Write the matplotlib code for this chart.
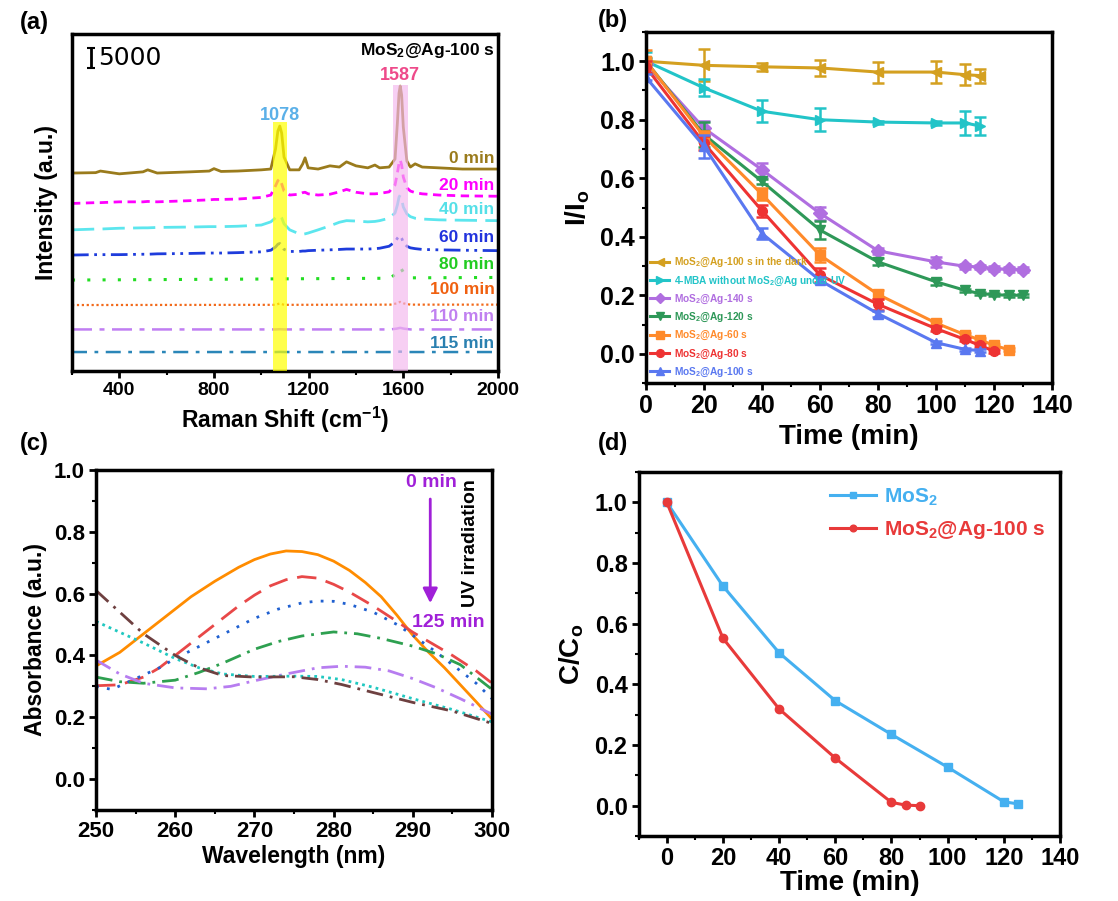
import matplotlib.pyplot as plt
from matplotlib.ticker import MultipleLocator

plt.rcParams['font.family'] = ['Liberation Sans', 'DejaVu Sans']
plt.rcParams['font.weight'] = 'bold'
plt.rcParams['axes.labelweight'] = 'bold'
plt.rcParams['mathtext.fontset'] = 'custom'
plt.rcParams['mathtext.rm'] = 'Liberation Sans:bold'
plt.rcParams['mathtext.it'] = 'Liberation Sans:bold'
plt.rcParams['mathtext.bf'] = 'Liberation Sans:bold'

# ---- (a) Raman spectra, stacked (counts) ----
shift = [200, 300, 320, 400, 500, 520, 560, 700, 780, 800, 830, 900, 1000, 1040,
         1060, 1070, 1078, 1086, 1096, 1120, 1160, 1175, 1185, 1198, 1240, 1290,
         1330, 1360, 1400, 1450, 1480, 1500, 1540, 1565, 1575, 1582, 1587, 1593,
         1600, 1615, 1630, 1650, 1680, 1750, 1850, 2000]
raman_0 = [49500, 49600, 50000, 49300, 49800, 50300, 49500, 49800, 50000, 50600,
           49900, 50000, 50300, 50500, 55500, 60000, 61250, 59500, 53500, 50300,
           50300, 51800, 53300, 50800, 50500, 51300, 51000, 52300, 51300, 50800,
           51500, 50800, 51000, 53000, 62000, 69500, 71250, 69000, 61000, 52500,
           51000, 51800, 51000, 50800, 50500, 50500]
raman_20 = [41900, 42100, 42100, 42300, 42300, 42400, 42300, 42600, 42800, 42900,
            42900, 43000, 43400, 44000, 46300, 47600, 48000, 46800, 45000, 44000,
            44200, 44600, 44700, 44300, 44000, 44200, 44800, 45400, 44700, 44300,
            44300, 44400, 44800, 46500, 49500, 52000, 52800, 51500, 48500, 45800,
            45000, 44600, 44300, 44000, 43800, 43700]
raman_40 = [35300, 35500, 35500, 35700, 35800, 35800, 35900, 36000, 36100, 36100,
            36100, 36200, 36500, 37300, 38300, 38900, 39000, 38300, 36800, 35300,
            34300, 34200, 34300, 34500, 35300, 36300, 37200, 37600, 37500, 37300,
            37400, 37600, 38200, 39500, 41500, 43500, 44000, 43000, 41000, 39300,
            38600, 38200, 38000, 37800, 37700, 37600]
raman_60 = [29000, 29100, 29100, 29100, 29200, 29200, 29300, 29400, 29500, 29500,
            29500, 29600, 29800, 30200, 31000, 31700, 31900, 31300, 30400, 29900,
            29900, 30000, 30000, 30100, 30200, 30300, 30400, 30500, 30500, 30500,
            30600, 30700, 31200, 32300, 33200, 33700, 33800, 33200, 32200, 31200,
            30800, 30600, 30400, 30300, 30200, 30100]
shift_late = [200, 1000, 1060, 1078, 1096, 1545, 1572, 1587, 1602, 1630, 2000]
raman_80 = [22750, 23000, 23050, 23300, 23050, 23200, 24500, 26000, 24500, 23300, 23400]
raman_100 = [16500, 16550, 16550, 16900, 16550, 16600, 16900, 17300, 16900, 16600, 16600]
raman_110 = [10400, 10400, 10400, 10450, 10400, 10400, 10600, 10800, 10600, 10400, 10400]
raman_115 = [4750, 4750, 4750, 4780, 4750, 4750, 4800, 4850, 4800, 4750, 4750]
raman_labels = ['0 min', '20 min', '40 min', '60 min', '80 min', '100 min', '110 min', '115 min']
raman_label_y = [53250, 46500, 40500, 33500, 26750, 20500, 13750, 7000]
scale_bar = 5000

# ---- (b) relative SERS intensity vs time ----
t_long = [0, 20, 40, 60, 80, 100, 110, 115, 120, 125, 130]
t_dark = [0, 20, 40, 60, 80, 100, 110, 115]
dark = [1.0, 0.986, 0.981, 0.977, 0.963, 0.963, 0.954, 0.951]
dark_err = [0.0, 0.055, 0.014, 0.027, 0.036, 0.037, 0.035, 0.024]
mba = [1.0, 0.909, 0.829, 0.80, 0.792, 0.789, 0.789, 0.779]
mba_err = [0.03, 0.029, 0.037, 0.04, 0.005, 0.008, 0.042, 0.031]
ag140 = [0.99, 0.771, 0.629, 0.48, 0.352, 0.314, 0.299, 0.297, 0.291, 0.289, 0.288]
ag140_err = [0.01, 0.025, 0.024, 0.023, 0.01, 0.017, 0.008, 0.008, 0.008, 0.008, 0.008]
ag120 = [1.0, 0.749, 0.589, 0.423, 0.314, 0.246, 0.217, 0.206, 0.202, 0.2, 0.2]
ag120_err = [0.01, 0.043, 0.01, 0.031, 0.012, 0.01, 0.006, 0.006, 0.006, 0.006, 0.006]
t_60 = [0, 20, 40, 60, 80, 100, 110, 115, 120, 125]
ag60 = [1.0, 0.743, 0.545, 0.337, 0.203, 0.105, 0.065, 0.048, 0.029, 0.014]
ag60_err = [0.04, 0.02, 0.02, 0.023, 0.015, 0.008, 0.006, 0.006, 0.006, 0.005]
t_80 = [0, 20, 40, 60, 80, 100, 110, 115, 120]
ag80 = [0.98, 0.72, 0.489, 0.269, 0.169, 0.086, 0.049, 0.029, 0.009]
ag80_err = [0.02, 0.025, 0.02, 0.023, 0.018, 0.008, 0.006, 0.006, 0.005]
ag100 = [0.945, 0.709, 0.411, 0.251, 0.137, 0.038, 0.015, 0.011]
ag100_err = [0.01, 0.04, 0.02, 0.01, 0.01, 0.006, 0.005, 0.005]

# ---- (c) UV-vis absorbance, 0 min -> 125 min ----
wl_0 = [250, 253, 256, 259, 262, 265, 268, 270, 272, 274, 276, 278, 280, 282,
        284, 286, 288, 290, 292, 294, 296, 298, 300]
abs_0 = [0.366, 0.41, 0.47, 0.53, 0.59, 0.64, 0.685, 0.71, 0.728, 0.738, 0.736,
         0.726, 0.705, 0.675, 0.636, 0.59, 0.53, 0.465, 0.41, 0.36, 0.305, 0.25, 0.194]
wl_1 = [250, 253, 256, 258, 260, 262, 265, 268, 270, 272, 274, 276, 278, 280,
        282, 285, 288, 290, 292, 295, 298, 300]
abs_1 = [0.302, 0.305, 0.33, 0.36, 0.40, 0.44, 0.50, 0.56, 0.595, 0.625, 0.645,
         0.655, 0.65, 0.63, 0.605, 0.56, 0.51, 0.475, 0.445, 0.40, 0.35, 0.31]
wl_2 = [250, 252, 255, 258, 260, 265, 270, 273, 276, 278, 280, 282, 285, 288,
        290, 293, 295, 298, 300]
abs_2 = [0.30, 0.29, 0.325, 0.36, 0.39, 0.455, 0.52, 0.55, 0.57, 0.576, 0.575,
         0.565, 0.54, 0.50, 0.465, 0.41, 0.37, 0.31, 0.26]
wl_3 = [250, 253, 256, 260, 263, 266, 270, 273, 276, 280, 283, 286, 290, 293, 296, 300]
abs_3 = [0.33, 0.315, 0.31, 0.32, 0.345, 0.375, 0.42, 0.445, 0.463, 0.476, 0.47,
         0.455, 0.43, 0.405, 0.37, 0.29]
wl_4 = [250, 253, 256, 260, 264, 267, 270, 274, 278, 281, 284, 287, 290, 293, 296, 300]
abs_4 = [0.385, 0.34, 0.31, 0.295, 0.292, 0.30, 0.318, 0.34, 0.36, 0.365, 0.362,
         0.35, 0.325, 0.295, 0.26, 0.21]
wl_5 = [250, 253, 256, 260, 263, 266, 270, 275, 278, 281, 285, 290, 295, 300]
abs_5 = [0.51, 0.475, 0.44, 0.39, 0.36, 0.34, 0.332, 0.333, 0.332, 0.322, 0.297,
         0.26, 0.225, 0.185]
abs_6 = [0.61, 0.54, 0.47, 0.40, 0.36, 0.335, 0.33, 0.331, 0.322, 0.306, 0.28,
         0.248, 0.22, 0.18]

# ---- (d) degradation C/C0 ----
t_mos2 = [0, 20, 40, 60, 80, 100, 120, 125]
c_mos2 = [1.0, 0.724, 0.504, 0.346, 0.235, 0.127, 0.013, 0.006]
t_ag = [0, 20, 40, 60, 80, 85, 90]
c_ag = [1.0, 0.552, 0.319, 0.157, 0.011, 0.002, 0.0]


def style(ax, size):
    for s in ax.spines.values():
        s.set_linewidth(2.5)
    ax.tick_params(which='major', direction='out', length=5, width=2,
                   labelsize=size, top=False, right=False, pad=3)
    ax.tick_params(which='minor', direction='out', length=3, width=1.5,
                   top=False, right=False)


fmt1 = plt.FuncFormatter(lambda v, p: f'{v:.1f}')

fig = plt.figure(figsize=(11.18, 9.01), dpi=100)

# (a)
ax = fig.add_axes([0.0644, 0.5882, 0.381, 0.374])
early = [(raman_0, '#9A7B1C', '-', 2.0),
         (raman_20, '#FF00FF', (0, (3, 2)), 2.0),
         (raman_40, '#5CE6EE', (0, (8, 3)), 2.0),
         (raman_60, '#1E3CDC', (0, (6, 2, 1, 2, 1, 2)), 2.0)]
late = [(raman_80, '#22DD22', (0, (1, 4)), 2.2),
        (raman_100, '#F26A1B', (0, (1, 1.2)), 1.6),
        (raman_110, '#C07EF2', (0, (8, 3, 2, 3)), 1.8),
        (raman_115, '#2A86B8', (0, (6, 3, 1.5, 3)), 1.8)]
for y, c, ls, lw in early:
    ax.plot(shift, y, color=c, ls=ls, lw=lw)
for y, c, ls, lw in late:
    ax.plot(shift_late, y, color=c, ls=ls, lw=lw)
ax.fill_between([1050, 1108], 0, 62200, color='#FFFF00', alpha=0.7, lw=0, zorder=3)
ax.fill_between([1556, 1619], 0, 71500, color='#F3B6EE', alpha=0.65, lw=0, zorder=3)
label_colors = ['#9A7B1C', '#FF00FF', '#55E0E8', '#2233DD', '#22CC22',
                '#F06010', '#C080F0', '#2A80B0']
for lab, yy, c in zip(raman_labels, raman_label_y, label_colors):
    ax.text(1985, yy, lab, color=c, fontsize=12.5, ha='right', va='center')
ax.text(1078, 64000, '1078', color='#5BB0E8', fontsize=13, ha='center', va='center')
ax.text(1587, 74000, '1587', color='#EE4A8A', fontsize=13, ha='center', va='center')
ax.text(1985, 80200, r'MoS$_2$@Ag-100 s', fontsize=12.5, ha='right', va='center')
ax.errorbar([279], [75700 + scale_bar / 2], yerr=[scale_bar / 2], color='black',
            capsize=3, elinewidth=2, capthick=1.5)
ax.text(312, 78200, '5000', fontsize=18, fontweight='normal', va='center',
        family='DejaVu Sans')
ax.set_xlim(200, 2000)
ax.set_ylim(0, 84250)
ax.set_yticks([])
ax.xaxis.set_major_locator(MultipleLocator(400))
ax.xaxis.set_minor_locator(MultipleLocator(200))
style(ax, 14)
ax.set_xlabel(r'Raman Shift (cm$^{-1}$)', fontsize=16.5, labelpad=4)
ax.set_ylabel('Intensity (a.u.)', fontsize=16.5, labelpad=10)

# (b)
ax = fig.add_axes([0.5778, 0.5749, 0.3632, 0.3896])
series_b = [
    (t_dark, dark, dark_err, '#D4A020', '<', r'MoS$_2$@Ag-100 s in the dark'),
    (t_dark, mba, mba_err, '#22C4C8', '>', r'4-MBA without MoS$_2$@Ag under UV'),
    (t_long, ag140, ag140_err, '#B06EE0', 'D', r'MoS$_2$@Ag-140 s'),
    (t_long, ag120, ag120_err, '#2E9858', 'v', r'MoS$_2$@Ag-120 s'),
    (t_60, ag60, ag60_err, '#FF8A2A', 's', r'MoS$_2$@Ag-60 s'),
    (t_80, ag80, ag80_err, '#EE3333', 'o', r'MoS$_2$@Ag-80 s'),
    (t_dark, ag100, ag100_err, '#5A78F0', '^', r'MoS$_2$@Ag-100 s'),
]
for t, y, e, c, m, lab in series_b:
    ax.errorbar(t, y, yerr=e, fmt='none', ecolor=c, elinewidth=1.8,
                capsize=4, capthick=1.8)
    ax.plot(t, y, color=c, marker=m, ms=7, lw=2.2, label=lab)
ax.legend(loc='lower left', bbox_to_anchor=(0.0, 0.0), frameon=False,
          fontsize=7.3, labelcolor='linecolor', handlelength=1.9,
          handletextpad=0.5, labelspacing=0.5, borderaxespad=0.2,
          borderpad=0.2, markerscale=0.8)
ax.set_xlim(0, 140)
ax.set_ylim(-0.1, 1.1)
ax.xaxis.set_major_locator(MultipleLocator(20))
ax.xaxis.set_minor_locator(MultipleLocator(10))
ax.set_yticks([0.0, 0.2, 0.4, 0.6, 0.8, 1.0])
ax.yaxis.set_minor_locator(MultipleLocator(0.1))
ax.yaxis.set_major_formatter(fmt1)
style(ax, 18)
ax.set_xlabel('Time (min)', fontsize=20, labelpad=4)
ax.set_ylabel(r'I/I$_\mathrm{o}$', fontsize=20, labelpad=6)

# (c)
ax = fig.add_axes([0.0859, 0.101, 0.3542, 0.3774])
curves_c = [
    (wl_0, abs_0, '#FF8C00', '-'),
    (wl_1, abs_1, '#E84848', (0, (7, 3.5))),
    (wl_2, abs_2, '#2060D0', (0, (1, 3))),
    (wl_3, abs_3, '#2EA050', (0, (6, 2.5, 1, 2.5))),
    (wl_4, abs_4, '#B77DF0', (0, (6, 2.5, 1, 2.5))),
    (wl_5, abs_5, '#20C8C0', (0, (1, 1.5))),
    (wl_5, abs_6, '#6E4040', (0, (6, 2.5, 1, 2.5))),
]
for x, y, c, ls in curves_c:
    ax.plot(x, y, color=c, ls=ls, lw=2.0)
ax.annotate('', xy=(292.2, 0.56), xytext=(292.2, 0.915),
            arrowprops=dict(arrowstyle='-|>', color='#A020D8', lw=2,
                            mutation_scale=22))
ax.text(292.4, 0.958, '0 min', color='#A020D8', fontsize=14, ha='center', va='center')
ax.text(294.5, 0.506, '125 min', color='#A020D8', fontsize=14, ha='center', va='center')
ax.text(297.3, 0.765, 'UV irradiation', fontsize=14, rotation=90,
        ha='center', va='center')
ax.set_xlim(250, 300)
ax.set_ylim(-0.1, 1.0)
ax.xaxis.set_major_locator(MultipleLocator(10))
ax.xaxis.set_minor_locator(MultipleLocator(5))
ax.set_yticks([0.0, 0.2, 0.4, 0.6, 0.8, 1.0])
ax.yaxis.set_minor_locator(MultipleLocator(0.1))
ax.yaxis.set_major_formatter(fmt1)
style(ax, 16)
ax.set_xlabel('Wavelength (nm)', fontsize=16.5, labelpad=2)
ax.set_ylabel('Absorbance (a.u.)', fontsize=16.5, labelpad=5)

# (d)
ax = fig.add_axes([0.5713, 0.0721, 0.3768, 0.404])
ax.plot(t_mos2, c_mos2, color='#45B0F0', marker='s', ms=6, lw=2.2, label=r'MoS$_2$')
ax.plot(t_ag, c_ag, color='#E83A3A', marker='o', ms=6, lw=2.2,
        label=r'MoS$_2$@Ag-100 s')
ax.legend(loc='upper right', frameon=False, fontsize=15, labelcolor='linecolor',
          handlelength=2.2, handletextpad=0.4, labelspacing=0.55,
          borderaxespad=0.3, markerscale=0.8)
ax.set_xlim(-10, 140)
ax.set_ylim(-0.1, 1.1)
ax.set_xticks([0, 20, 40, 60, 80, 100, 120, 140])
ax.xaxis.set_minor_locator(MultipleLocator(10))
ax.set_yticks([0.0, 0.2, 0.4, 0.6, 0.8, 1.0])
ax.yaxis.set_minor_locator(MultipleLocator(0.1))
ax.yaxis.set_major_formatter(fmt1)
style(ax, 17)
ax.set_xlabel('Time (min)', fontsize=20, labelpad=0)
ax.set_ylabel(r'C/C$_\mathrm{o}$', fontsize=20, labelpad=6)

for lab, x, y in [('(a)', 0.018, 0.975), ('(b)', 0.535, 0.977),
                  ('(c)', 0.018, 0.508), ('(d)', 0.535, 0.508)]:
    fig.text(x, y, lab, fontsize=17, va='center', ha='left')

fig.savefig('out.png', dpi=100)
